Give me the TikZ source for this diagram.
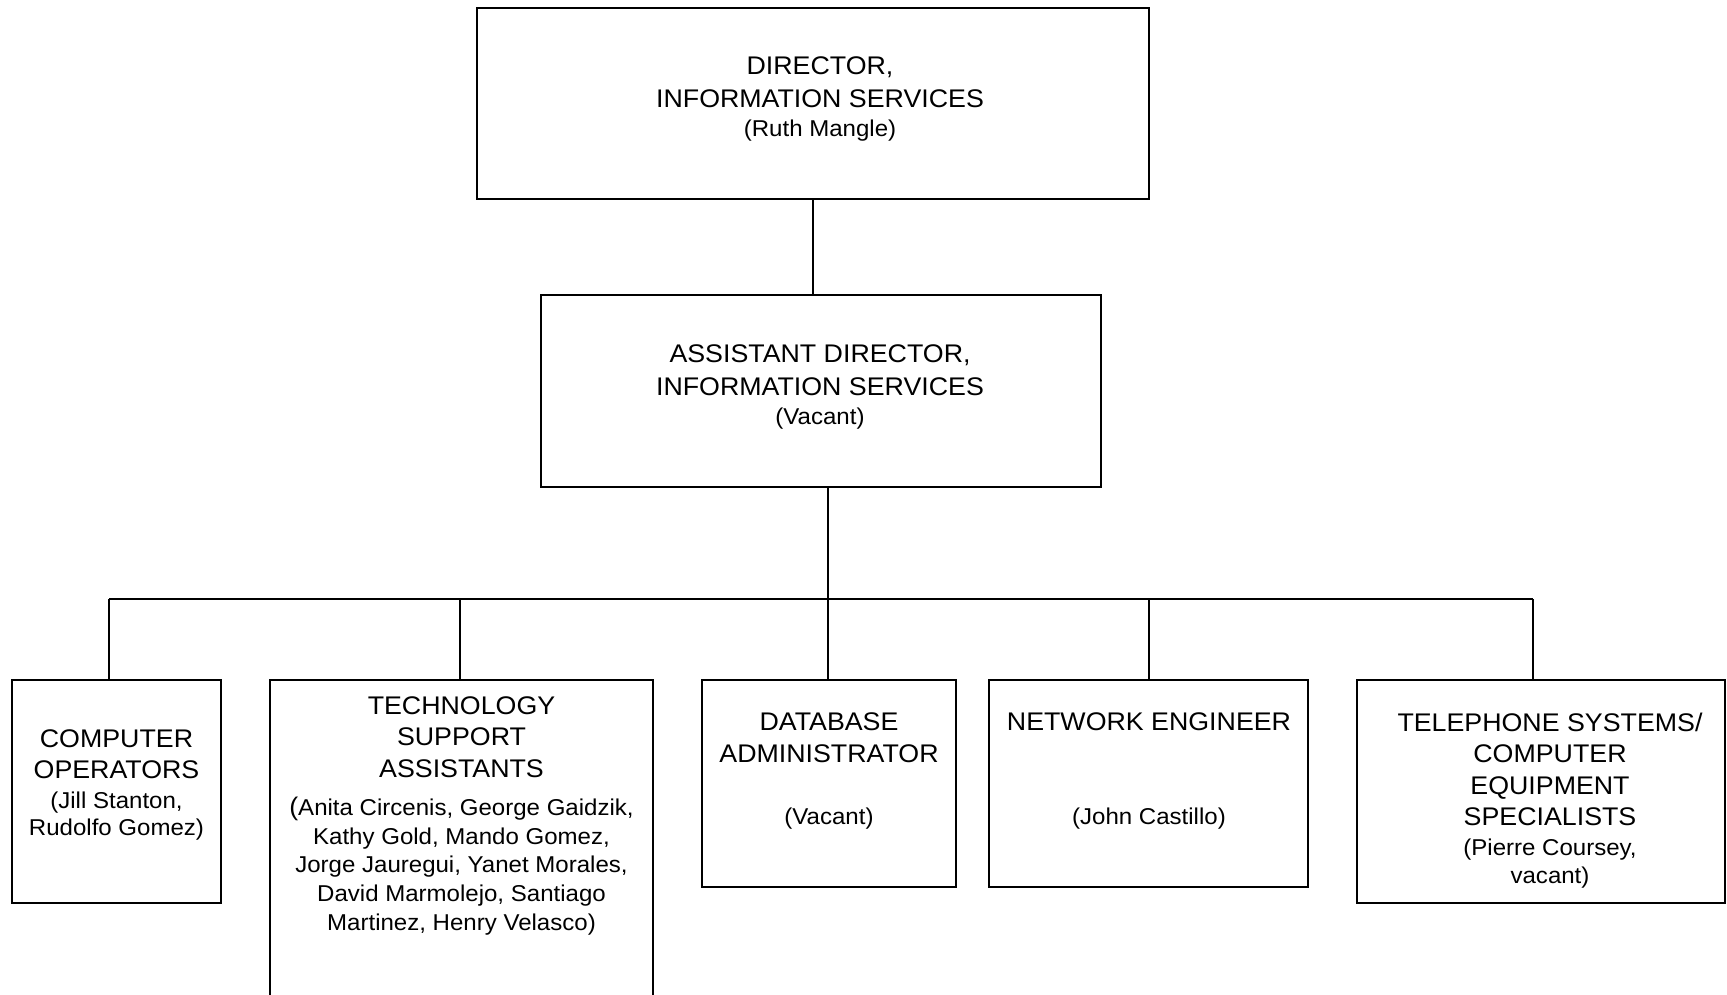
\documentclass[tikz,border=0pt]{standalone}
\usepackage{fontspec}
\setmainfont{Liberation Sans}[FakeStretch=1.05]
\begin{document}
\begin{tikzpicture}[x=1pt,y=-1pt]
\tikzset{
  box/.style={draw, line width=1.6pt, inner sep=0pt, rectangle},
  ttl/.style={anchor=north, align=center, inner sep=0pt, font=\fontsize{25.5}{31.5}\selectfont},
  ppl/.style={anchor=north, align=center, inner sep=0pt, font=\fontsize{22.9}{28.3}\selectfont},
  wire/.style={line width=1.6pt}
}
\useasboundingbox (0,0) rectangle (1727,995);
\clip (0,0) rectangle (1727,995);
% boxes
\node[box, minimum width=672, minimum height=191] (dir) at (813,103.5) {};
\node[box, minimum width=560, minimum height=192] (ast) at (821,391) {};
\node[box, minimum width=209, minimum height=223] (co) at (116.5,791.5) {};
\node[box, minimum width=383, minimum height=330] (tech) at (461.5,845) {};
\node[box, minimum width=254, minimum height=207] (db) at (829,783.5) {};
\node[box, minimum width=319, minimum height=207] (net) at (1148.5,783.5) {};
\node[box, minimum width=368, minimum height=223] (tel) at (1541,791.5) {};
% texts
\node[ttl, font=\fontsize{25.5}{33}\selectfont] (dirT) at (820,56.7) {DIRECTOR,\\INFORMATION SERVICES};
\node[ppl] (dirP) at (820,119.6) {(Ruth Mangle)};
\node[ttl, font=\fontsize{25.5}{33}\selectfont] (astT) at (820,344.2) {ASSISTANT DIRECTOR,\\INFORMATION SERVICES};
\node[ppl] (astP) at (820,408) {(Vacant)};
\node[ttl] (coT) at (116.5,729.3) {COMPUTER\\OPERATORS};
\node[ppl, font=\fontsize{22.9}{27}\selectfont] (coP) at (116.5,791.5) {(Jill Stanton,\\Rudolfo Gomez)};
\node[ttl] (techT) at (461.5,696.3) {TECHNOLOGY\\SUPPORT\\ASSISTANTS};
\node[ppl, font=\fontsize{22.9}{28.7}\selectfont] (techP) at (461.5,796.8) {{\fontsize{25.5}{28.7}\selectfont(}Anita Circenis, George Gaidzik,\\Kathy Gold, Mando Gomez,\\Jorge Jauregui, Yanet Morales,\\David Marmolejo, Santiago\\Martinez, Henry Velasco)};
\node[ttl] (dbT) at (829,712.7) {DATABASE\\ADMINISTRATOR};
\node[ppl] (dbP) at (829,807.5) {(Vacant)};
\node[ttl] (netT) at (1149,712.7) {NETWORK ENGINEER};
\node[ppl] (netP) at (1149,807.5) {(John Castillo)};
\node[ttl] (telT) at (1550,712.7) {TELEPHONE SYSTEMS/\\COMPUTER\\EQUIPMENT\\SPECIALISTS};
\node[ppl] (telP) at (1550,838.5) {(Pierre Coursey,\\vacant)};
% connectors
\coordinate (b1) at (109,599);
\coordinate (b2) at (460,599);
\coordinate (b3) at (828,599);
\coordinate (b4) at (1149,599);
\coordinate (b5) at (1533,599);
\draw[wire] (dir.south) -- (dir.south |- ast.north);
\draw[wire] (ast.south -| b3) -- (b3);
\draw[wire] (b1) -- (b5);
\draw[wire] (b1) -- (b1 |- co.north);
\draw[wire] (b2) -- (b2 |- tech.north);
\draw[wire] (b3) -- (b3 |- db.north);
\draw[wire] (b4) -- (b4 |- net.north);
\draw[wire] (b5) -- (b5 |- tel.north);
\end{tikzpicture}
\end{document}
